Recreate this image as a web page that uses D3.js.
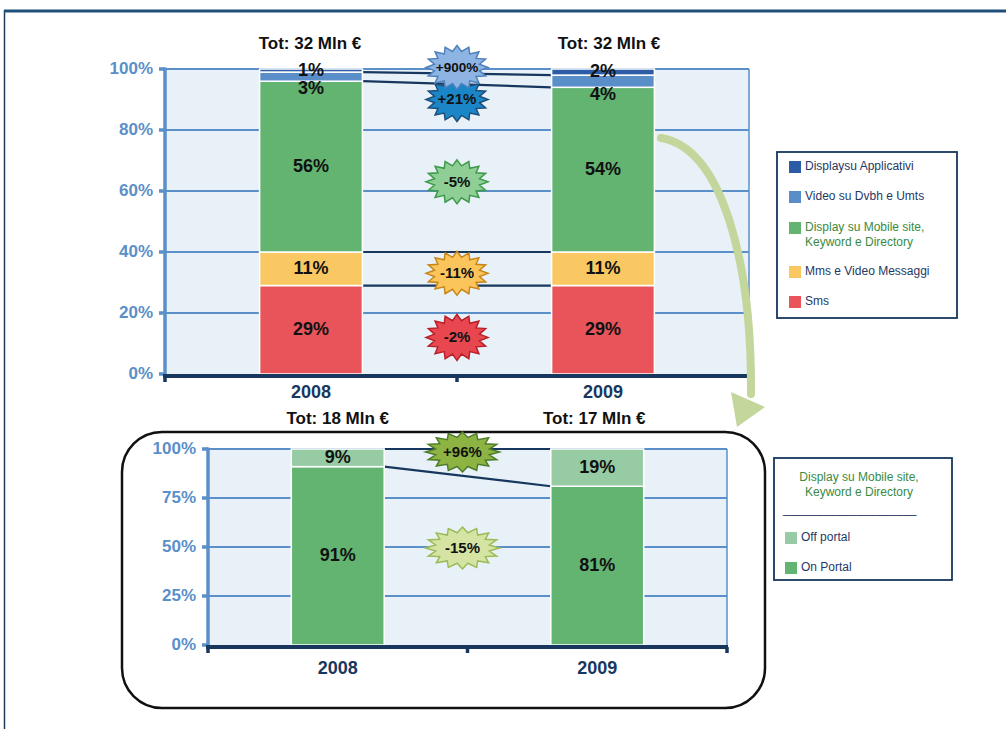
<!DOCTYPE html>
<html>
<head>
<meta charset="utf-8">
<script src="https://cdn.jsdelivr.net/npm/d3@7"></script>
<style>
  html, body { margin: 0; padding: 0; background: #ffffff; }
  svg { display: block; font-family: "Liberation Sans", Arial, sans-serif; }
</style>
</head>
<body>
<svg id="chart" width="1006" height="729"></svg>
<script>
// ---- data ----
const years = ["2008", "2009"];

// upper chart: revenue mix, share of total (%)
const sms = [29, 29];
const mms = [11, 11];
const displayMobile = [56, 54];
const videoDvbh = [3, 4];
const displayApp = [1, 2];
const topSeriesNames = ["Sms", "Mms e Video Messaggi", "Display su Mobile site,\nKeyword e Directory", "Video su Dvbh e Umts", "Displaysu Applicativi"];
const topTotals = ["Tot: 32 Mln €", "Tot: 32 Mln €"];
const topChanges = ["-2%", "-11%", "-5%", "+21%", "+900%"];
const topTicks = [0, 20, 40, 60, 80, 100];

// lower chart: Display su Mobile site split (%)
const onPortal = [91, 81];
const offPortal = [9, 19];
const bottomSeriesNames = ["On Portal", "Off portal"];
const bottomTotals = ["Tot: 18 Mln €", "Tot: 17 Mln €"];
const bottomChanges = ["-15%", "+96%"];
const bottomTicks = [0, 25, 50, 75, 100];

// ---- styles ----
const NAVY = "#17375e";
const AXIS_BLUE = "#5b8fc9";
const PLOT_BG = "#e8f1f8";
const topColors = ["#e8545a", "#fac863", "#63b371", "#5a8ec9", "#2c5ca6"];
const bottomColors = ["#63b371", "#96cba3"];
const topBurst = [
  { fill: "#e8474f", stroke: "#b8202a" },
  { fill: "#fbc55c", stroke: "#c8861a" },
  { fill: "#8fcf95", stroke: "#3d9a4a" },
  { fill: "#1a86c8", stroke: "#1f4e79" },
  { fill: "#8eb4e3", stroke: "#4f81bd" }
];
const bottomBurst = [
  { fill: "#d6e4a3", stroke: "#9bbb59" },
  { fill: "#8db443", stroke: "#4e7d2a" }
];

const svg = d3.select("#chart");

// page frame
svg.append("rect").attr("x", 4.5).attr("y", 11).attr("width", 1020).attr("height", 740)
  .attr("fill", "none").attr("stroke", "#1f3c5a").attr("stroke-width", 1.5);
svg.append("line").attr("x1", 4).attr("x2", 1006).attr("y1", 11).attr("y2", 11)
  .attr("stroke", "#1f4e79").attr("stroke-width", 3);

// star-shaped badge path
function starPath(rx, ry, n, inner) {
  const pts = [];
  for (let i = 0; i < n * 2; i++) {
    const a = -Math.PI / 2 + i * Math.PI / n;
    const k = i % 2 === 0 ? 1 : inner;
    pts.push([Math.cos(a) * rx * k, Math.sin(a) * ry * k]);
  }
  return "M" + pts.map(p => p[0].toFixed(2) + "," + p[1].toFixed(2)).join("L") + "Z";
}

function drawStacked(cfg) {
  const g = svg.append("g");
  const x = d3.scaleBand().domain(years).range([cfg.left, cfg.right]).padding(0);
  const y = d3.scaleLinear().domain([0, 100]).range([cfg.bottom, cfg.top]);
  const barW = x.bandwidth() * cfg.barFrac;
  const barX = yr => x(yr) + (x.bandwidth() - barW) / 2;

  // plot background
  g.append("rect").attr("x", cfg.left).attr("y", y(100))
    .attr("width", cfg.right - cfg.left).attr("height", y(0) - y(100))
    .attr("fill", PLOT_BG);
  g.append("line").attr("x1", cfg.right).attr("x2", cfg.right)
    .attr("y1", y(100)).attr("y2", y(0))
    .attr("stroke", AXIS_BLUE).attr("stroke-width", 1.5);

  // gridlines
  g.append("g").selectAll("line").data(cfg.ticks.filter(t => t > 0)).join("line")
    .attr("x1", cfg.left).attr("x2", cfg.right)
    .attr("y1", d => y(d)).attr("y2", d => y(d))
    .attr("stroke", AXIS_BLUE).attr("stroke-width", 2);

  // stacked layers
  const rows = years.map((yr, i) => {
    const r = { year: yr };
    cfg.series.forEach((s, k) => { r["s" + k] = s[i]; });
    return r;
  });
  const keys = cfg.series.map((s, k) => "s" + k);
  const stack = d3.stack().keys(keys)(rows);

  // connector lines between the bars at each cumulative boundary
  const bounds = stack.map(layer => layer.map(d => d[1])).filter((b, k) => cfg.connectTop || k < stack.length - 1);
  g.append("g").selectAll("line").data(bounds).join("line")
    .attr("x1", barX(years[0]) + barW).attr("x2", barX(years[1]))
    .attr("y1", d => y(d[0])).attr("y2", d => y(d[1]))
    .attr("stroke", NAVY).attr("stroke-width", 2.2);

  // bars
  stack.forEach((layer, k) => {
    g.append("g").selectAll("rect").data(layer).join("rect")
      .attr("x", d => barX(d.data.year)).attr("width", barW)
      .attr("y", d => y(d[1])).attr("height", d => y(d[0]) - y(d[1]))
      .attr("fill", cfg.colors[k]).attr("stroke", "#ffffff").attr("stroke-width", 1.5);
  });

  // value labels (thin segments below the top one get their label just under the segment)
  stack.forEach((layer, k) => {
    g.append("g").selectAll("text").data(layer).join("text")
      .attr("x", d => barX(d.data.year) + barW / 2)
      .attr("y", d => {
        const v = d[1] - d[0];
        if (v >= 5 || k === stack.length - 1) return y((d[0] + d[1]) / 2) + 0.5;
        return y(d[0]) + 8;
      })
      .attr("text-anchor", "middle").attr("dominant-baseline", "middle")
      .attr("font-size", 18).attr("font-weight", "bold").attr("fill", "#111")
      .text(d => (d[1] - d[0]) + "%");
  });

  // y axis
  const yAxis = g.append("g");
  yAxis.append("line").attr("x1", cfg.left).attr("x2", cfg.left)
    .attr("y1", y(0)).attr("y2", y(100) - 1.5)
    .attr("stroke", AXIS_BLUE).attr("stroke-width", 3.5);
  yAxis.selectAll(".tk").data(cfg.ticks).join("line")
    .attr("x1", cfg.left - 6).attr("x2", cfg.left)
    .attr("y1", d => y(d)).attr("y2", d => y(d))
    .attr("stroke", AXIS_BLUE).attr("stroke-width", 3.5);
  yAxis.selectAll("text").data(cfg.ticks).join("text")
    .attr("x", cfg.left - 12).attr("y", d => y(d) + 1)
    .attr("text-anchor", "end").attr("dominant-baseline", "middle")
    .attr("font-size", 17).attr("font-weight", "bold").attr("fill", AXIS_BLUE)
    .text(d => d + "%");

  // x axis
  const xAxis = g.append("g");
  xAxis.append("line").attr("x1", cfg.left - 2).attr("x2", cfg.right + 1)
    .attr("y1", y(0) + 2).attr("y2", y(0) + 2)
    .attr("stroke", NAVY).attr("stroke-width", 4);
  xAxis.selectAll(".tk").data([cfg.left, (cfg.left + cfg.right) / 2, cfg.right]).join("line")
    .attr("x1", d => d).attr("x2", d => d)
    .attr("y1", y(0) + 2).attr("y2", y(0) + 8)
    .attr("stroke", NAVY).attr("stroke-width", 3.5);
  xAxis.selectAll("text").data(years).join("text")
    .attr("x", d => x(d) + x.bandwidth() / 2).attr("y", y(0) + cfg.xLabelGap)
    .attr("text-anchor", "middle").attr("dominant-baseline", "middle")
    .attr("font-size", 18).attr("font-weight", "bold").attr("fill", NAVY)
    .text(d => d);

  // totals above bars
  g.append("g").selectAll("text").data(years).join("text")
    .attr("x", (d, i) => barX(d) + barW / 2 + cfg.totalShift[i]).attr("y", cfg.totalY)
    .attr("text-anchor", "middle").attr("dominant-baseline", "middle")
    .attr("font-size", 17).attr("font-weight", "bold").attr("fill", "#111")
    .text((d, i) => cfg.totals[i]);

  // change badges between the bars
  const cx = (cfg.left + cfg.right) / 2;
  const badges = g.append("g").selectAll("g").data(cfg.changes).join("g")
    .attr("transform", (d, i) => `translate(${cx + cfg.burstDx},${y(cfg.burstLevels[i])})`);
  badges.append("path")
    .attr("d", (d, i) => starPath(cfg.burstSize[i][0], cfg.burstSize[i][1], 16, 0.74))
    .attr("fill", (d, i) => cfg.burstStyle[i].fill)
    .attr("stroke", (d, i) => cfg.burstStyle[i].stroke).attr("stroke-width", 1.5)
    .attr("stroke-linejoin", "miter");
  badges.append("text")
    .attr("text-anchor", "middle").attr("dominant-baseline", "middle").attr("y", 1)
    .attr("font-size", d => d.length > 4 ? 13.5 : 15).attr("font-weight", "bold").attr("fill", "#111")
    .text(d => d);

  return { x, y };
}

// lower chart frame (drawn first so the chart sits on top)
svg.append("rect").attr("x", 122).attr("y", 432).attr("width", 643).attr("height", 276)
  .attr("rx", 40).attr("ry", 40)
  .attr("fill", "#ffffff").attr("stroke", "#111").attr("stroke-width", 2.5);

// upper chart
drawStacked({
  left: 165, right: 749, top: 69, bottom: 374, barFrac: 0.352,
  series: [sms, mms, displayMobile, videoDvbh, displayApp],
  colors: topColors, ticks: topTicks, connectTop: false,
  totals: topTotals, totalY: 45, totalShift: [-1, 6], xLabelGap: 19,
  changes: topChanges, burstLevels: [12, 33, 63, 90, 100.5], burstDx: 0,
  burstSize: [[31, 23], [31, 22], [31, 22], [31, 22], [31, 22]],
  burstStyle: topBurst
});

// lower chart
drawStacked({
  left: 208, right: 727, top: 449, bottom: 645, barFrac: 0.358,
  series: [onPortal, offPortal],
  colors: bottomColors, ticks: bottomTicks, connectTop: true,
  totals: bottomTotals, totalY: 420, totalShift: [0, -3], xLabelGap: 24,
  changes: bottomChanges, burstLevels: [49.5, 98.5], burstDx: -5,
  burstSize: [[37, 21], [37, 20]],
  burstStyle: bottomBurst
});

// curved arrow linking the two charts
svg.append("path")
  .attr("d", "M661,138 C722,148 752,262 751,394")
  .attr("fill", "none").attr("stroke", "#c3d69b").attr("stroke-width", 8)
  .attr("stroke-linecap", "round");
svg.append("path")
  .attr("d", "M731,392 L765,407 L737,427 Z")
  .attr("fill", "#c3d69b");

// legends
function legend(x0, y0, w, h) {
  const g = svg.append("g");
  g.append("rect").attr("x", x0).attr("y", y0).attr("width", w).attr("height", h)
    .attr("fill", "#ffffff").attr("stroke", NAVY).attr("stroke-width", 1.8);
  return g;
}

const lg1 = legend(777, 152, 180, 166);
const topLegendOrder = [4, 3, 2, 1, 0];
const topLegendY = [167, 197, 228, 272, 302];
topLegendOrder.forEach((k, i) => {
  lg1.append("rect").attr("x", 789).attr("y", topLegendY[i] - 6).attr("width", 12).attr("height", 12)
    .attr("fill", topColors[k]);
  const lines = topSeriesNames[k].split("\n");
  lg1.append("text").attr("x", 805).attr("y", topLegendY[i])
    .attr("dominant-baseline", "middle").attr("font-size", 12)
    .attr("fill", k === 2 ? "#3a8a3f" : "#1f3864")
    .selectAll("tspan").data(lines).join("tspan")
    .attr("x", 805).attr("dy", (d, j) => j === 0 ? 0 : 15).text(d => d);
});

const lg2 = legend(774, 458, 178, 122);
lg2.append("text").attr("x", 859).attr("y", 478)
  .attr("text-anchor", "middle").attr("font-size", 12).attr("fill", "#3a8a3f")
  .attr("dominant-baseline", "middle")
  .selectAll("tspan").data(["Display su Mobile site,", "Keyword e Directory"]).join("tspan")
  .attr("x", 859).attr("dy", (d, j) => j === 0 ? 0 : 15).text(d => d);
lg2.append("text").attr("x", 783).attr("y", 513).attr("font-size", 12).attr("fill", "#1f3864")
  .text("____________________");
const bottomLegendOrder = [1, 0];
const bottomLegendY = [538, 568];
bottomLegendOrder.forEach((k, i) => {
  lg2.append("rect").attr("x", 785).attr("y", bottomLegendY[i] - 6).attr("width", 12).attr("height", 12)
    .attr("fill", bottomColors[k]);
  lg2.append("text").attr("x", 801).attr("y", bottomLegendY[i])
    .attr("dominant-baseline", "middle").attr("font-size", 12).attr("fill", "#1f3864")
    .text(bottomSeriesNames[k]);
});
</script>
</body>
</html>
